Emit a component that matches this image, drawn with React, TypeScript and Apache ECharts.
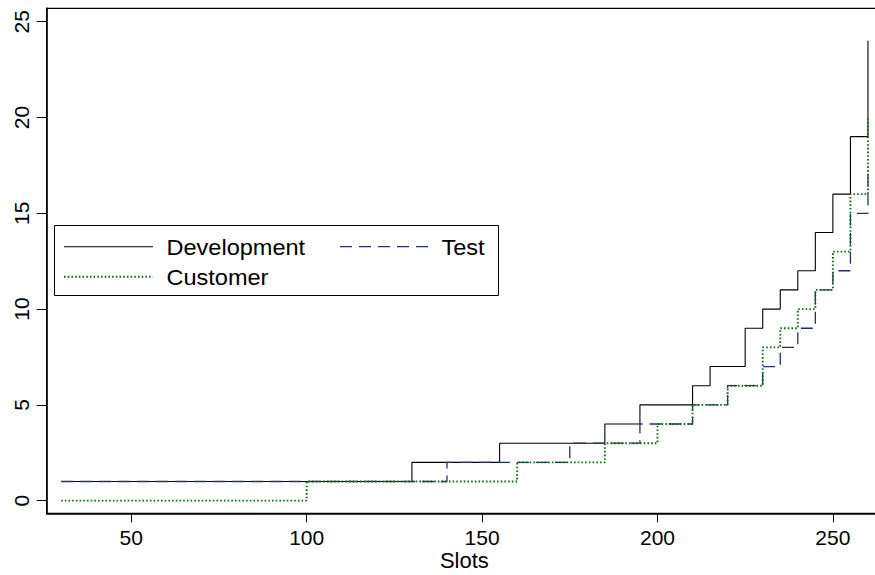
import React, { useEffect, useRef } from "react";
import * as echarts from "echarts";

// Step data: x where the new level starts, y the level
const devX = [30, 130, 155, 185, 195, 210, 215, 225, 230, 235, 240, 245, 250, 255, 260];
const devY = [1, 2, 3, 4, 5, 6, 7, 9, 10, 11, 12, 14, 16, 19, 24];
const testX = [30, 140, 175, 195, 210, 220, 230, 235, 240, 245, 250, 255, 260];
const testY = [1, 2, 3, 4, 5, 6, 7, 8, 9, 11, 12, 15, 17];
const custX = [30, 100, 160, 185, 200, 210, 220, 230, 235, 240, 245, 250, 255, 260];
const custY = [0, 1, 2, 3, 4, 5, 6, 8, 9, 10, 11, 13, 16, 20];

const xTicks = [50, 100, 150, 200, 250];
const yTicks = [0, 5, 10, 15, 20, 25];
const seriesNames = ["Development", "Test", "Customer"];
const xName = "Slots";

const FONT = "'Liberation Sans', Arial, Helvetica, sans-serif";
const NAVY = "#23306e";
const GREEN = "#0a700a";

const zip = (xs: number[], ys: number[]) => xs.map((x, i) => [x, ys[i]]);

export default function App() {
  const ref = useRef<HTMLDivElement>(null);
  useEffect(() => {
    if (!ref.current) return;
    const chart = echarts.init(ref.current, null, { renderer: "svg" });
    const legX = 54.5, legY = 225.5, legW = 444, legH = 70;
    const option: any = {
      animation: false,
      backgroundColor: "#fff",
      grid: {
        left: 46.7,
        top: 8.3,
        width: 835.3,
        height: 505,
        show: true,
        borderColor: "#000",
        borderWidth: 1.2,
        backgroundColor: "transparent",
        containLabel: false,
        outerBoundsMode: "none",
      },
      xAxis: {
        type: "value",
        min: 25.9,
        max: 264,
        axisLine: { onZero: false, lineStyle: { color: "#000", width: 1.5 } },
        axisTick: { customValues: xTicks, length: 9, lineStyle: { color: "#000", width: 1 } },
        axisLabel: { customValues: xTicks, fontSize: 21, color: "#000", margin: 14, fontFamily: FONT },
        splitLine: { show: false },
        name: xName,
        nameLocation: "middle",
        nameGap: 36,
        nameMoveOverlap: false,
        nameTextStyle: { fontSize: 22, color: "#000", fontFamily: FONT },
      },
      yAxis: {
        type: "value",
        min: -0.66,
        max: 25.7,
        axisLine: { onZero: false, lineStyle: { color: "#000", width: 1.5 } },
        axisTick: { customValues: yTicks, length: 10, lineStyle: { color: "#000", width: 1 } },
        axisLabel: { customValues: yTicks, fontSize: 21, color: "#000", margin: 15, rotate: 90, fontFamily: FONT },
        splitLine: { show: false },
      },
      series: [
        {
          name: seriesNames[0],
          type: "line",
          step: "end",
          symbol: "none",
          data: zip(devX, devY),
          lineStyle: { color: "#000", width: 1.1 },
        },
        {
          name: seriesNames[1],
          type: "line",
          step: "end",
          symbol: "none",
          data: zip(testX, testY),
          lineStyle: { color: NAVY, width: 1.3, type: [12, 7] },
        },
        {
          name: seriesNames[2],
          type: "line",
          step: "end",
          symbol: "none",
          data: zip(custX, custY),
          lineStyle: { color: GREEN, width: 1.9, type: [1.6, 2.1] },
        },
      ],
      graphic: [
        {
          type: "group",
          children: [
            {
              type: "rect",
              shape: { x: legX, y: legY, width: legW, height: legH },
              style: { fill: "#fff", stroke: "#000", lineWidth: 1 },
            },
            {
              type: "line",
              shape: { x1: 64, y1: 246.7, x2: 153, y2: 246.7 },
              style: { stroke: "#000", lineWidth: 1.1 },
            },
            {
              type: "text",
              x: 166.5,
              y: 247,
              style: { text: seriesNames[0], fontSize: 22, fill: "#000", fontFamily: FONT, verticalAlign: "middle", align: "left" },
              scaleX: 1.07,
            },
            {
              type: "line",
              shape: { x1: 340, y1: 246.7, x2: 428, y2: 246.7 },
              style: { stroke: NAVY, lineWidth: 1.3, lineDash: [12, 7] },
            },
            {
              type: "text",
              x: 441.5,
              y: 247,
              style: { text: seriesNames[1], fontSize: 22, fill: "#000", fontFamily: FONT, verticalAlign: "middle", align: "left" },
              scaleX: 1.07,
            },
            {
              type: "line",
              shape: { x1: 64, y1: 276.7, x2: 153, y2: 276.7 },
              style: { stroke: GREEN, lineWidth: 1.9, lineDash: [1.6, 2.1] },
            },
            {
              type: "text",
              x: 166.5,
              y: 277.5,
              style: { text: seriesNames[2], fontSize: 22, fill: "#000", fontFamily: FONT, verticalAlign: "middle", align: "left" },
              scaleX: 1.07,
            },
          ],
        },
      ],
    };
    chart.setOption(option);
    return () => chart.dispose();
  }, []);
  return (
    <div
      style={{
        position: "fixed",
        left: 0,
        top: 0,
        width: 875,
        height: 575,
        overflow: "hidden",
        background: "#fff",
      }}
    >
      <div ref={ref} style={{ width: 892, height: 575 }} />
    </div>
  );
}
